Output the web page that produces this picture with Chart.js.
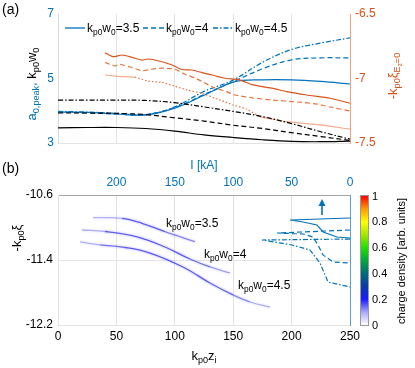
<!DOCTYPE html>
<html><head><meta charset="utf-8">
<script src="https://cdn.jsdelivr.net/npm/chart.js@4.4.1/dist/chart.umd.min.js"></script>
<style>
body{margin:0;background:#fff;}
#wrap{position:relative;width:415px;height:368px;overflow:hidden;font-family:"Liberation Sans",Arial,sans-serif;color:#000;}
canvas{position:absolute;left:0;}
.t{position:absolute;white-space:nowrap;line-height:1;}
.c{transform:translate(-50%,-50%);}
.v{transform:translate(0,-50%);}
.r{transform:translate(-50%,-50%) rotate(-90deg);}
sub{font-size:70%;vertical-align:-0.35em;line-height:0;}
svg{position:absolute;left:0;top:0;}
</style></head><body>
<div id="wrap">
<canvas id="ca" width="415" height="160" style="top:0;width:415px;height:160px"></canvas>
<canvas id="cb" width="415" height="218" style="top:150px;width:415px;height:218px"></canvas>
<svg width="415" height="368">
 <line x1="65" y1="28" x2="85" y2="28" stroke="#0072BD" stroke-width="1.3"/>
 <line x1="143" y1="28" x2="165" y2="28" stroke="#0072BD" stroke-width="1.3" stroke-dasharray="5,3"/>
 <line x1="213" y1="28" x2="234" y2="28" stroke="#0072BD" stroke-width="1.3" stroke-dasharray="5,2,1.5,2"/>
 <line x1="322" y1="215" x2="322" y2="204" stroke="#0072BD" stroke-width="1.6"/>
 <polygon points="322,199 318.5,206 325.5,206" fill="#0072BD"/>
</svg>
<div class="t" style="left:2px;top:2px;font-size:14px">(a)</div>
<div class="t" style="left:2px;top:161px;font-size:14px">(b)</div>
<div class="t v" style="left:87px;top:28px;font-size:12px">k<sub>p0</sub>w<sub>0</sub>=3.5</div>
<div class="t v" style="left:166px;top:28px;font-size:12px">k<sub>p0</sub>w<sub>0</sub>=4</div>
<div class="t v" style="left:235px;top:28px;font-size:12px">k<sub>p0</sub>w<sub>0</sub>=4.5</div>
<div class="t r" style="left:31px;top:84px;font-size:13px"><span style="color:#0072BD">a<sub>0,peak</sub>,</span> k<sub>p0</sub>w<sub>0</sub></div>
<div class="t r" style="left:393px;top:76px;font-size:13px;color:#D95319">-k<sub>p0</sub>&xi;<sub>E<sub>z</sub>=0</sub></div>
<div class="t r" style="left:16px;top:238px;font-size:13px">-k<sub>p0</sub>&xi;</div>
<div class="t c" style="left:204px;top:165px;font-size:12px;color:#0072BD">I [kA]</div>
<div class="t c" style="left:204px;top:355px;font-size:13px">k<sub>p0</sub>z<sub>i</sub></div>
<div class="t" style="left:166px;top:217px;font-size:12px">k<sub>p0</sub>w<sub>0</sub>=3.5</div>
<div class="t" style="left:204px;top:248px;font-size:12px">k<sub>p0</sub>w<sub>0</sub>=4</div>
<div class="t" style="left:238px;top:279px;font-size:12px">k<sub>p0</sub>w<sub>0</sub>=4.5</div>
<div style="position:absolute;left:360px;top:195px;width:7px;height:129px;border:1px solid #999;background:linear-gradient(to top,#ffffff 0%,#a8a8ff 10%,#1a1aff 20%,#0a3aa8 30%,#006a78 40%,#00a83c 50%,#22e000 60%,#a6e600 70%,#ffff00 80%,#ff9a00 90%,#ff0000 100%);"></div>
<div class="t v" style="left:372px;top:196px;font-size:11px">1</div>
<div class="t v" style="left:372px;top:221px;font-size:11px">0.8</div>
<div class="t v" style="left:372px;top:247px;font-size:11px">0.6</div>
<div class="t v" style="left:372px;top:273px;font-size:11px">0.4</div>
<div class="t v" style="left:372px;top:299px;font-size:11px">0.2</div>
<div class="t v" style="left:372px;top:325px;font-size:11px">0</div>
<div class="t r" style="left:401px;top:261px;font-size:11px">charge density [arb. units]</div>
</div>
<script>
// ---------- panel (a) data ----------
const zA = [0,25,50,75,100,125,150,175,200,225,250];
const wSolid   = [3.47,3.48,3.48,3.45,3.37,3.25,3.17,3.10,3.05,3.04,3.06];
const wDashed  = [3.93,3.93,3.92,3.88,3.78,3.68,3.55,3.45,3.32,3.20,3.08];
const wDashDot = [4.33,4.33,4.33,4.32,4.25,4.12,3.98,3.82,3.60,3.35,3.12];
const aSolid   = [3.96,3.95,3.90,3.87,4.08,4.48,4.89,4.96,4.96,4.91,4.83];
const aDashed  = [3.96,3.93,3.90,3.88,4.10,4.50,4.90,5.30,5.58,5.64,5.64];
const aDashDot = [3.98,3.96,3.92,3.88,4.12,4.60,4.95,5.50,5.90,6.10,6.26];
const zO1 = [40.2,47.1,54.8,63.4,71.9,77.1,89,97.6,106,114.7,123.3,131.8,143,155.8,167,184,196,213,233,250];
const xiO1 = [-6.80,-6.831,-6.818,-6.836,-6.857,-6.849,-6.87,-6.895,-6.93,-6.934,-6.955,-6.973,-6.998,-7.012,-7.05,-7.076,-7.102,-7.128,-7.153,-7.192];
const zO2 = [40.2,48.8,53,63.4,71.9,80.5,89,100,108.7,117.3,125.9,134.4,143,151.5,167,184,204.6,221.8,233,250];
const xiO2 = [-6.876,-6.902,-6.89,-6.915,-6.94,-6.928,-6.92,-6.928,-6.967,-6.996,-7.035,-7.074,-7.097,-7.128,-7.151,-7.167,-7.182,-7.198,-7.221,-7.252];
const zO3 = [40.2,48.8,57.4,65.9,77,89,100,111,123.3,134.4,143,149.8,161.8,173,184,196,209.8,224.3,238.9,250];
const xiO3 = [-6.973,-6.981,-6.986,-6.99,-7.02,-7.03,-7.06,-7.09,-7.115,-7.153,-7.18,-7.205,-7.238,-7.296,-7.316,-7.335,-7.347,-7.36,-7.378,-7.393];
const yTicksA = [3,5,7];
const y2TicksA = [-7.5,-7,-6.5];
// ---------- panel (b) data ----------
const zS1 = [30,54.8,71.9,91.6,117.3];
const xiS1 = [-10.879,-10.887,-10.948,-11.052,-11.175];
const zS2 = [20.5,40.2,68.5,91.6,113,130.1,147.3];
const xiS2 = [-11.031,-11.049,-11.117,-11.24,-11.388,-11.486,-11.56];
const zS3 = [18.8,36,57.4,78.8,107,130.1,149.8,164.4,181.5];
const xiS3 = [-11.178,-11.215,-11.246,-11.314,-11.486,-11.683,-11.83,-11.917,-11.978];
const iP1 = [0,51.4,40.2,28.3,23.1,11.1,0];
const xiP1 = [-10.883,-10.908,-10.932,-10.969,-11.055,-11.117,-11.129];
const iP2 = [0,62.5,40.2,31.7,27.4,23.1,14.5,0];
const xiP2 = [-11.031,-11.068,-11.08,-11.117,-11.215,-11.338,-11.425,-11.437];
const iP3 = [0,75.3,59.9,49.7,34.2,25.7,18.8,0];
const xiP3 = [-11.142,-11.154,-11.19,-11.215,-11.277,-11.437,-11.671,-11.732];
const xTicksB = [0,50,100,150,200,250];
const iTicksB = [0,50,100,150,200];
const yTicksB = [-12.2,-11.4,-10.6];

const BLUE='#0072BD', ORANGE='#D95319', ORANGE2='#E4753F', SALMON='#F5AC8E';
const DASH=[5,3], DASHDOT=[5,2,1.5,2], DOT=[1.5,2];
const pts=(xs,ys)=>xs.map((x,i)=>({x:x,y:ys[i]}));
Chart.defaults.font.family="'Liberation Sans', Arial, sans-serif";
Chart.defaults.font.size=11;
Chart.defaults.color='#000';
const LIGHT='#e3e3e3';
function fixW(w){return s=>{s.width=w;};}
function fixH(h){return s=>{s.height=h;};}
function ln(data,color,dash,axis,extra){return Object.assign({data:data,borderColor:color,borderWidth:1.2,borderDash:dash||[],pointRadius:0,tension:0.35,fill:false,yAxisID:axis||'y'},extra||{});}

new Chart(document.getElementById('ca'),{
 type:'line',
 data:{datasets:[
  ln(pts(zA,wSolid),'#000',[]),
  ln(pts(zA,wDashed),'#000',DASH),
  ln(pts(zA,wDashDot),'#000',DASHDOT),
  ln(pts(zO1,xiO1),ORANGE,[],'y2',{tension:0.2}),
  ln(pts(zO2,xiO2),ORANGE2,DASH,'y2',{tension:0.2}),
  ln(pts(zO3,xiO3),SALMON,[],'y2',{tension:0.2,segment:{
     borderColor:c=>(c.p0.parsed.x>=63&&c.p0.parsed.x<165)?ORANGE2:SALMON,
     borderDash:c=>(c.p0.parsed.x>=63&&c.p0.parsed.x<165)?DOT:[]}}),
  ln(pts(zA,aSolid),BLUE,[]),
  ln(pts(zA,aDashed),BLUE,DASH),
  ln(pts(zA,aDashDot),BLUE,DASHDOT)
 ]},
 options:{responsive:false,animation:false,parsing:true,
  layout:{padding:{top:14,left:0,right:0,bottom:0}},
  plugins:{legend:{display:false},tooltip:{enabled:false}},
  scales:{
   x:{type:'linear',min:0,max:250,ticks:{display:false,stepSize:50},
      grid:{color:LIGHT,drawTicks:false},border:{color:LIGHT},afterFit:fixH(17)},
   y:{type:'linear',position:'left',min:3,max:7,
      afterBuildTicks:s=>{s.ticks=yTicksA.map(v=>({value:v}));},
      ticks:{color:BLUE,padding:4,font:{size:12}},grid:{display:false,drawTicks:false},border:{color:'#cfdbe6'},afterFit:fixW(58)},
   y2:{type:'linear',position:'right',min:-7.5,max:-6.5,
      afterBuildTicks:s=>{s.ticks=y2TicksA.map(v=>({value:v}));},
      ticks:{color:ORANGE,padding:5,font:{size:12},callback:v=>String(v)},grid:{display:false,drawTicks:false},border:{color:'#F0A080'},afterFit:fixW(65)}
  }}
});

// fade factor along a streak (style only)
function fade(c,n){const f=c.p0DataIndex/(n-1);return Math.min(1,0.45+f*3)*(1-Math.max(0,(f-0.6)/0.4)*0.75);}
function streak(xs,ys){const n=xs.length;return [
  {data:pts(xs,ys),borderWidth:4.5,pointRadius:0,tension:0.4,xAxisID:'x',yAxisID:'y',
   borderColor:'rgba(130,130,255,0.1)',segment:{borderColor:c=>'rgba(130,130,255,'+(0.14*fade(c,n)).toFixed(3)+')'}},
  {data:pts(xs,ys),borderWidth:1.3,pointRadius:0,tension:0.4,xAxisID:'x',yAxisID:'y',
   borderColor:'rgba(50,50,235,0.8)',segment:{borderColor:c=>'rgba(50,50,235,'+(0.85*fade(c,n)).toFixed(3)+')'}}];}
function prof(xs,ys,dash){return {data:pts(xs,ys),borderColor:BLUE,borderWidth:1.2,borderDash:dash,pointRadius:0,tension:0,xAxisID:'x2',yAxisID:'y'};}

new Chart(document.getElementById('cb'),{
 type:'line',
 data:{datasets:[].concat(streak(zS1,xiS1),streak(zS2,xiS2),streak(zS3,xiS3),
   [prof(iP1,xiP1,[]),prof(iP2,xiP2,DASH),prof(iP3,xiP3,DASHDOT)])},
 options:{responsive:false,animation:false,
  layout:{padding:0},
  plugins:{legend:{display:false},tooltip:{enabled:false}},
  scales:{
   x:{type:'linear',position:'bottom',min:0,max:250,
      afterBuildTicks:s=>{s.ticks=xTicksB.map(v=>({value:v}));},
      ticks:{padding:4,font:{size:12}},grid:{color:LIGHT,drawTicks:false},border:{color:LIGHT},afterFit:fixH(43)},
   x2:{type:'linear',position:'top',min:0,max:250,reverse:true,
      afterBuildTicks:s=>{s.ticks=iTicksB.map(v=>({value:v}));},
      ticks:{color:BLUE,padding:5,font:{size:12}},grid:{display:false,drawTicks:false},border:{color:'#a6a6a6'},afterFit:fixH(45)},
   y:{type:'linear',position:'left',min:-12.2,max:-10.6,
      afterBuildTicks:s=>{s.ticks=yTicksB.map(v=>({value:v}));},
      ticks:{padding:5,font:{size:12},callback:v=>v.toFixed(1)},grid:{color:LIGHT,drawTicks:false},border:{color:LIGHT},afterFit:fixW(58)},
   y2:{type:'linear',position:'right',min:-12.2,max:-10.6,ticks:{display:false},
      grid:{display:false,drawTicks:false},border:{color:'#5aa0d8'},afterFit:fixW(65)}
  }}
});
</script>
</body></html>
